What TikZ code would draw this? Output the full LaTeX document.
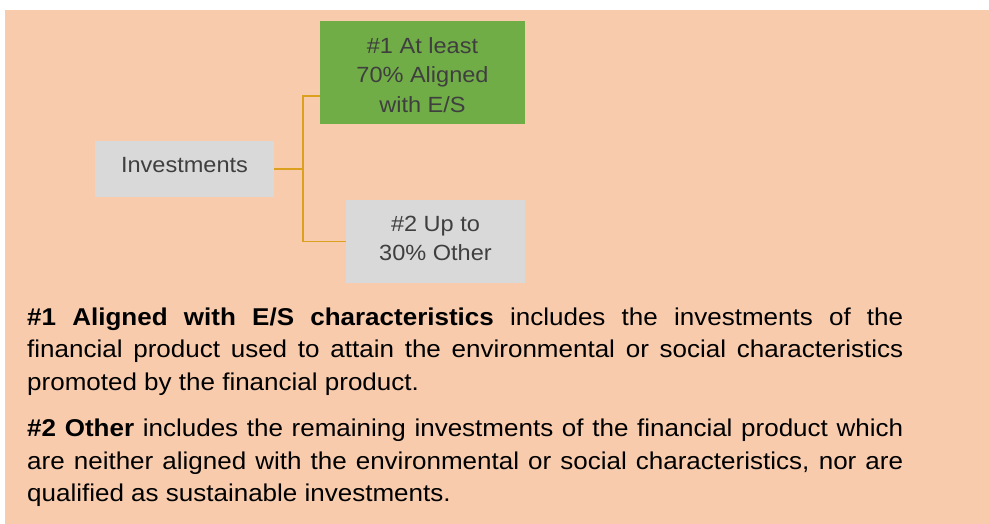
\documentclass[tikz,border=0pt]{standalone}
\usepackage{fontspec}
\setmainfont[FakeStretch=1.07]{Liberation Sans}
\definecolor{bgpeach}{HTML}{F8CBAD}
\definecolor{boxgreen}{HTML}{70AD47}
\definecolor{boxgray}{HTML}{D9D9D9}
\definecolor{connline}{RGB}{218,160,30}
\definecolor{boxtxt}{HTML}{3F3F3F}
\begin{document}
\begin{tikzpicture}[x=1pt,y=-1pt,
  catbox/.style={rectangle, inner sep=0pt, text=boxtxt, align=center,
    font=\fontsize{22}{29.5}\selectfont},
  conn/.style={draw=connline, line width=1.5pt},
  para/.style={inner sep=0pt, text width=876pt, align=justify, anchor=north west,
    font=\fontsize{24.3}{32.2}\selectfont}]
\useasboundingbox (0,0) rectangle (989,524);
\fill[bgpeach] (5,10) rectangle (989,524);

\node[catbox, fill=boxgray, minimum width=179pt, minimum height=56pt,
  text height=16pt, text depth=8pt] (inv) at (184.5,169) {Investments};
\node[catbox, fill=boxgreen, minimum width=205pt, minimum height=103pt] (g1) at (422.5,72.5)
  {\rule{0pt}{21pt}\#1 At least\\70\% Aligned\\with E/S};
\node[catbox, fill=boxgray, minimum width=179pt, minimum height=83pt] (g2) at (435.5,241.5)
  {\#2 Up to\\30\% Other\rule[-6.5pt]{0pt}{6.5pt}};

\coordinate (j) at (303,169);
\draw[conn] (inv.east) -- (j);
\draw[conn] (j) |- ([yshift=-23.5pt]g1.west);
\draw[conn] (j) |- (g2.west);

\node[para] (p1) at (27,303) {\tolerance=10000\hyphenpenalty=10000\strut\textbf{\#1 Aligned with E/S characteristics} includes the investments of the\linebreak financial product used to attain the environmental or social characteristics\linebreak promoted by the financial product.};
\node[para] (p2) at (27,414.2) {\tolerance=10000\hyphenpenalty=10000\strut\textbf{\#2 Other} includes the remaining investments of the financial product which\linebreak are neither aligned with the environmental or social characteristics, nor are\linebreak qualified as sustainable investments.};
\end{tikzpicture}
\end{document}
